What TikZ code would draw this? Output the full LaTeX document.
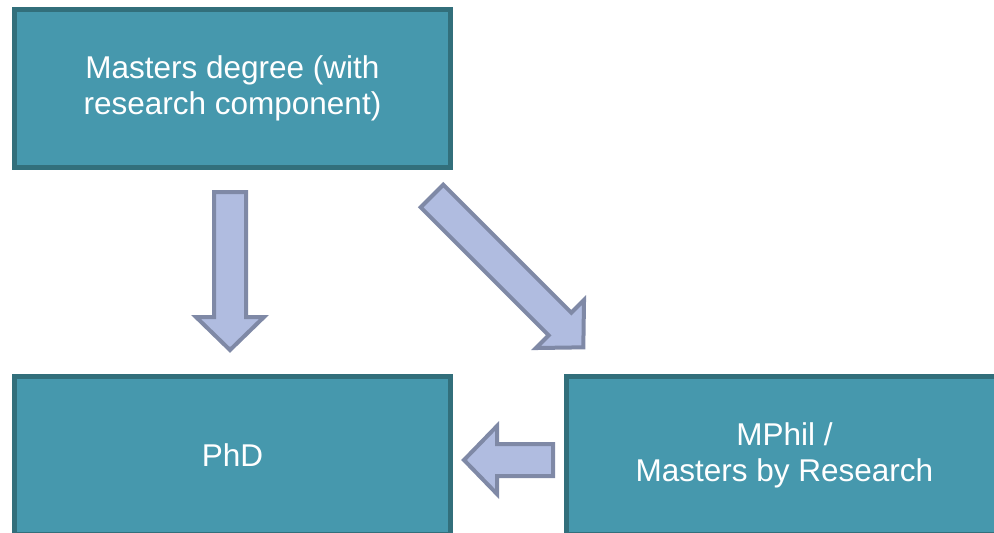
\documentclass[tikz,border=0pt]{standalone}
\usepackage{fontspec}
\setmainfont{Liberation Sans}
\definecolor{boxfill}{HTML}{4698AD}
\definecolor{boxline}{HTML}{326F7B}
\definecolor{arrowfill}{HTML}{B0BCE0}
\definecolor{arrowline}{HTML}{7F89A6}
\tikzset{
  stagebox/.style={draw=boxline, fill=boxfill, line width=5pt,
    minimum width=436pt, minimum height=158pt, align=center,
    text=white, font=\fontsize{31.5}{36}\selectfont},
  bigarrow/.pic={
    \draw[fill=arrowfill, draw=arrowline, line width=4pt, line join=miter]
      (0,-16) -- ({#1-33},-16) -- ({#1-33},-34) -- (#1,0)
      -- ({#1-33},34) -- ({#1-33},16) -- (0,16) -- cycle;
  }
}
\begin{document}
\begin{tikzpicture}[x=1pt, y=-1pt]
\clip (0,0) rectangle (994,533);
\node[stagebox] (masters) at (232.5,88.5) {Masters degree (with\\research component)};
\node[stagebox] (phd) at (232.5,455.5) {PhD};
\node[stagebox] (mphil) at (784.5,455.5) {MPhil /\\Masters by Research};
% arrows between the stages
\pic[rotate=-90] at (230,192) {bigarrow=158};
\pic[rotate=-45] at (432,196) {bigarrow=214};
\pic[rotate=180] at (553,460) {bigarrow=89};
\end{tikzpicture}
\end{document}
